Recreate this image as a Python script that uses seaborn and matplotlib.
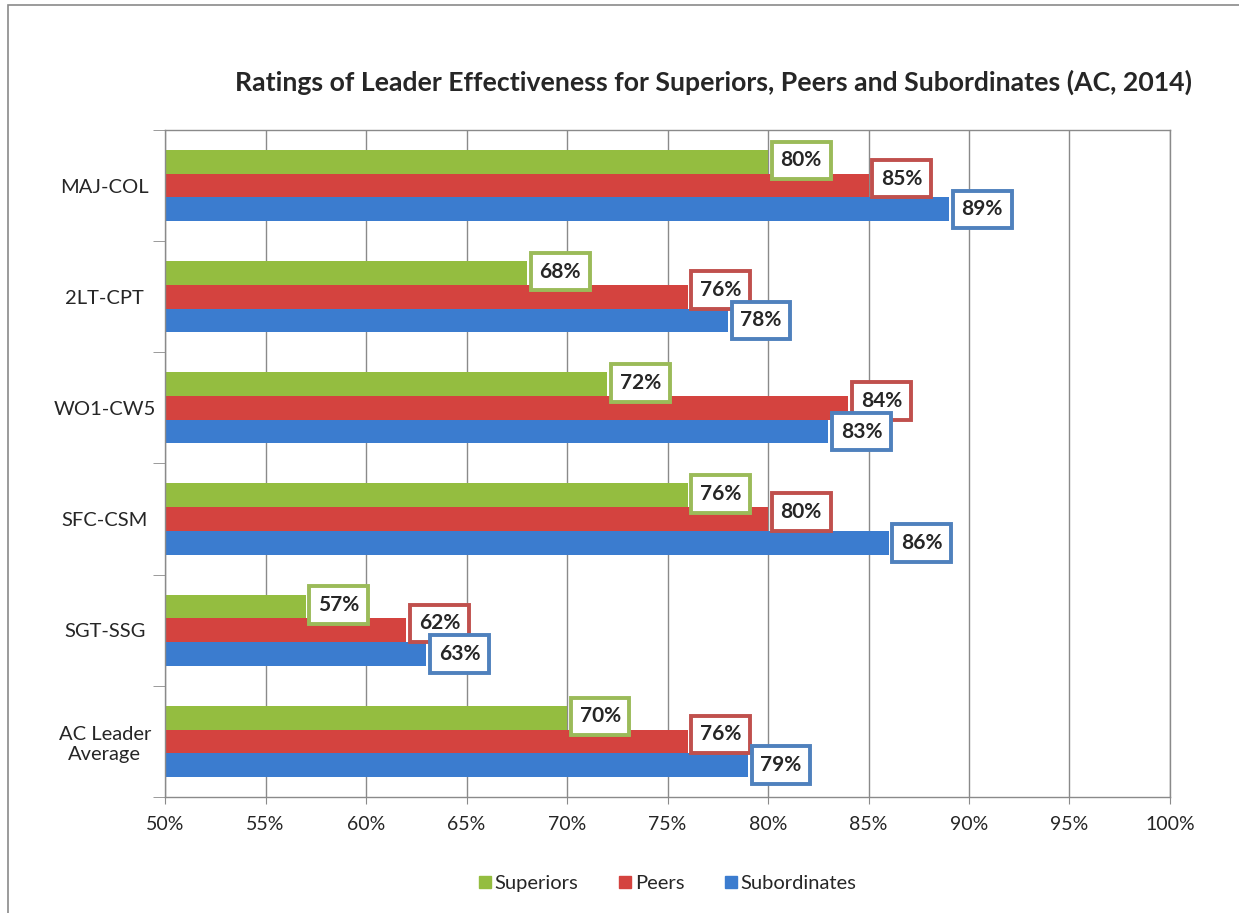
import matplotlib
matplotlib.use("Agg")
import matplotlib.pyplot as plt
import matplotlib.ticker as mtick
import matplotlib.patches as mpatches
import numpy as np
import pandas as pd
import seaborn as sns

# Data
ranks = ["MAJ-COL", "2LT-CPT", "WO1-CW5", "SFC-CSM", "SGT-SSG", "AC Leader\nAverage"]
superiors = [80, 68, 72, 76, 57, 70]
peers = [85, 76, 84, 80, 62, 76]
subordinates = [89, 78, 83, 86, 63, 79]
raters = ["Superiors", "Peers", "Subordinates"]
colors = {"Superiors": "#94bd40", "Peers": "#d4433f", "Subordinates": "#3b7ccf"}
edge_colors = {"Superiors": "#9bbb59", "Peers": "#c0504d", "Subordinates": "#4f81bd"}
label_lift = {"Superiors": 1, "Peers": 5, "Subordinates": 0}

df = pd.DataFrame({
    "rank": ranks * 3,
    "rater": [r for r in raters for _ in ranks],
    "value": superiors + peers + subordinates,
})

sns.set_style("white")
plt.rcParams["font.family"] = ["Lato", "DejaVu Sans"]

fig = plt.figure(figsize=(12.39, 9.13), dpi=100)
ax = fig.add_axes([0.1332, 0.1271, 0.8111, 0.7305])

sns.barplot(data=df, y="rank", x="value", hue="rater", hue_order=raters,
            palette=colors, orient="h", width=0.64, gap=0, saturation=1,
            edgecolor="none", ax=ax, legend=True)

ax.set_xlim(50, 100)
ax.set_ylim(5.5, -0.5)
ax.xaxis.set_major_locator(mtick.MultipleLocator(5))
ax.xaxis.set_major_formatter(mtick.PercentFormatter(decimals=0))
ax.grid(axis="x", color="#8a8a8a", lw=1)
ax.set_axisbelow(True)
ax.set_xlabel("")
ax.set_ylabel("")
for s in ax.spines.values():
    s.set_color("#8a8a8a")
    s.set_linewidth(1)

ax.tick_params(axis="x", labelsize=14, length=5, color="#8a8a8a", bottom=True, pad=9)
ax.tick_params(axis="y", which="major", labelsize=14.5, length=0, pad=0)
ax.set_yticks(np.arange(-0.5, 6, 1), minor=True)
ax.tick_params(axis="y", which="minor", length=9, color="#8a8a8a", left=True)
for lbl in ax.get_yticklabels():
    lbl.set_horizontalalignment("center")
    lbl.set_multialignment("center")
    lbl.set_x(-0.06)

# value labels in white boxes outlined with the series colour
for cont, rater in zip(ax.containers, raters):
    for bar, v in zip(cont, cont.datavalues):
        ax.annotate(f"{v:.0f}%", xy=(bar.get_width(), bar.get_y() + bar.get_height() / 2),
                    xytext=(9, label_lift[rater]), textcoords="offset points",
                    ha="left", va="center", fontsize=15, fontweight="bold",
                    bbox=dict(boxstyle="square,pad=0.42", fc="white",
                              ec=edge_colors[rater], lw=2.8))

ax.set_title("Ratings of Leader Effectiveness for Superiors, Peers and Subordinates (AC, 2014)",
             fontsize=19.2, fontweight="bold", pad=28, x=0.546)

handles = [mpatches.Patch(color=colors[r]) for r in raters]
ax.legend(handles, raters, loc="upper center", bbox_to_anchor=(0.5, -0.09),
          ncol=3, frameon=False, fontsize=14.5, handlelength=0.6, handleheight=0.6,
          handletextpad=0.2, columnspacing=2.0)

fig.patches.append(mpatches.Rectangle((8 / 1239, -0.02), 1.05, 1 - 5 / 913 + 0.02,
                                      transform=fig.transFigure, fill=False,
                                      ec="#8a8a8a", lw=1.2))

fig.savefig("out.png", dpi=100)
